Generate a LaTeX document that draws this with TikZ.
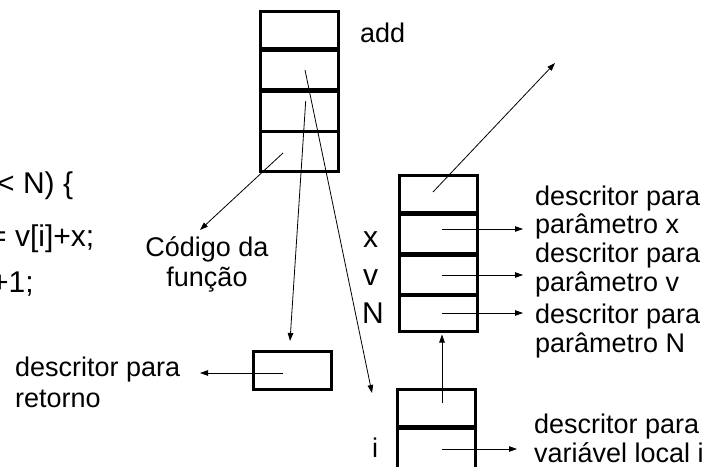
\documentclass[tikz,border=0pt]{standalone}
\usepackage{fontspec}
\setmainfont{Liberation Sans}
\usetikzlibrary{arrows.meta}
\tikzset{
  cell/.style={draw, line width=3pt, minimum width=77.7pt, inner sep=0pt, outer sep=0pt},
  conn/.style={line width=0.8pt, -{Triangle[length=8pt,width=5.5pt]}},
  lbl/.style={anchor=base west, inner sep=0pt, font=\fontsize{27}{31}\selectfont},
  ctr/.style={anchor=base, inner sep=0pt, font=\fontsize{27}{31}\selectfont},
  code/.style={anchor=base west, inner sep=0pt, font=\fontsize{30}{34}\selectfont},
  big/.style={anchor=base west, inner sep=0pt, font=\fontsize{30}{34}\selectfont}
}
\begin{document}
\begin{tikzpicture}[x=1pt,y=-1pt]
\useasboundingbox (0,0) rectangle (707,466);
\clip (0,0) rectangle (707,466);
\fill[white] (0,0) rectangle (707,466);

% add stack
\node[cell, minimum height=37pt]   (a1) at (299.7,30) {};
\node[cell, minimum height=38.5pt] (a2) at (299.7,69.75) {};
\node[cell, minimum height=40pt]   (a3) at (299.7,111) {};
\node[cell, minimum height=40pt]   (a4) at (299.7,151) {};

% parameter stack
\node[cell, minimum height=37pt]   (p1) at (438.7,194) {};
\node[cell, minimum height=39.5pt] (p2) at (438.7,233.75) {};
\node[cell, minimum height=39pt]   (p3) at (438.7,274.5) {};
\node[cell, minimum height=36.3pt] (p4) at (438.7,313.6) {};

% local variable stack
\node[cell, minimum height=36.5pt] (i1) at (436.3,407.75) {};
\node[cell, minimum height=42pt]   (i2) at (436.3,449) {};

% return box
\node[cell, minimum width=78.6pt, minimum height=37.7pt] (r) at (292.5,370.35) {};

% texts
\node[lbl] (add) at (360,42) {add};
\node[code] (c1) at (-3,193) {< N) \{};
\node[code] (c2) at (-11,246) {= v[i]+x;};
\node[code] (c3) at (-9,292) {+1;};
\node[ctr] (cod1) at (207,256) {Código da};
\node[ctr] (cod2) at (207,286) {função};
\node[big] (lx) at (363,247) {x};
\node[big] (lv) at (363,285) {v};
\node[big] (lN) at (362,323) {N};
\node[lbl] (li) at (372,457) {i};

\node[lbl] (d1) at (535,205) {descritor para};
\node[lbl] (d2) at (535,233) {parâmetro x};
\node[lbl] (d3) at (535,262) {descritor para};
\node[lbl] (d4) at (535,291) {parâmetro v};
\node[lbl] (d5) at (535,323) {descritor para};
\node[lbl] (d6) at (535,352) {parâmetro N};
\node[lbl] (d7) at (534,433) {descritor para};
\node[lbl] (d8) at (534,462) {variável local i};
\node[lbl] (r1) at (15,376) {descritor para};
\node[lbl] (r2) at (15,407) {retorno};

% connector endpoints
\coordinate (sa4) at (283,153);
\coordinate (ta4) at (200,230);
\coordinate (sa2) at (305,70);
\coordinate (ta2) at (372,393);
\coordinate (sa3) at (305.7,101);
\coordinate (ta3) at (290,341);
\coordinate (sp1) at (433,192);
\coordinate (tp1) at (555,63);
\coordinate (sp2) at (442,229);
\coordinate (tp2) at (523,229);
\coordinate (sp3) at (442,275);
\coordinate (tp3) at (523,275);
\coordinate (sp4) at (442,313);
\coordinate (tp4) at (523,313);
\coordinate (si1) at (442,403);
\coordinate (ti1) at (442,334.5);
\coordinate (si2) at (442,449);
\coordinate (ti2) at (517,449);
\coordinate (sr) at (283,373);
\coordinate (tr) at (200,373);

\draw[conn] (sa4) -- (ta4);
\draw[conn] (sa2) -- (ta2);
\draw[conn] (sa3) -- (ta3);
\draw[conn] (sp1) -- (tp1);
\draw[conn] (sp2) -- (tp2);
\draw[conn] (sp3) -- (tp3);
\draw[conn] (sp4) -- (tp4);
\draw[conn] (si1) -- (ti1);
\draw[conn] (si2) -- (ti2);
\draw[conn] (sr) -- (tr);
\end{tikzpicture}
\end{document}
